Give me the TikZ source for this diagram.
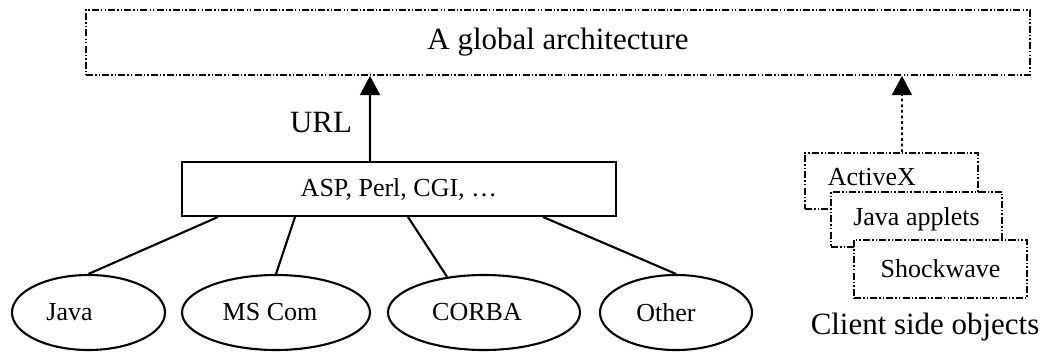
\documentclass[tikz,border=0pt]{standalone}
\usepackage{fontspec}
\setmainfont{Liberation Serif}
\usetikzlibrary{arrows.meta,shapes.geometric}

\tikzset{
  bigtext/.style={font=\fontsize{22}{26}\selectfont},
  smalltext/.style={font=\fontsize{18.5}{22}\selectfont},
  dashbox/.style={draw, fill=white, line width=1.3pt,
    dash pattern=on 5pt off 1.5pt on 1pt off 1.5pt on 1pt off 1.5pt},
  solidbox/.style={draw, fill=white, line width=1.4pt},
  blob/.style={ellipse, draw, line width=1.5pt, inner sep=0pt},
  link/.style={line width=1.5pt},
  bigtip/.style={-{Triangle[width=0.5cm, length=0.48cm]}}
}

\begin{document}
\begin{tikzpicture}
\useasboundingbox (0,0) rectangle (26.125,8.775);

\node (global) at (13.95,7.7125) [dashbox, minimum width=23.6cm, minimum height=1.625cm, bigtext]{A global architecture};

\node (asp) at (9.975,4.05) [solidbox, minimum width=10.85cm, minimum height=1.35cm, smalltext]{ASP, Perl, CGI, \dots};

\node (url) at (8.025,5.7) [bigtext]{URL};

\node (java) at (2.2125,0.9625) [blob, minimum width=3.825cm, minimum height=1.875cm, smalltext]{Java\hspace*{0.95cm}};
\node (mscom) at (6.9,0.9625) [blob, minimum width=4.7cm, minimum height=1.875cm, smalltext]{MS Com\hspace*{0.3cm}};
\node (corba) at (12.1,0.9625) [blob, minimum width=4.8cm, minimum height=1.875cm, smalltext]{CORBA\hspace*{0.35cm}};
\node (other) at (16.9,0.9625) [blob, minimum width=3.8cm, minimum height=1.875cm, smalltext]{Other\hspace*{0.5cm}};

% client side stack
\node (activex) at (22.2875,4.25) [dashbox, minimum width=4.325cm, minimum height=1.4cm, smalltext]{\raisebox{0.2cm}{ActiveX}\hspace*{0.98cm}};
\node (applets) at (22.9125,3.2875) [dashbox, minimum width=4.275cm, minimum height=1.375cm, smalltext]{Java applets};
\node (shock) at (23.5125,2.05) [dashbox, minimum width=4.325cm, minimum height=1.45cm, smalltext]{Shockwave};

\node (client) at (23.125,0.6) [bigtext]{Client side objects};

\draw [link, bigtip] ([xshift=-0.725cm]asp.north) -- ([xshift=-4.7cm]global.south);
\draw [line width=1.3pt, dash pattern=on 2pt off 2pt, bigtip] ([xshift=0.26cm]activex.north) -- ([xshift=8.6cm]global.south);

\draw [link] ([xshift=-4.525cm]asp.south) -- (java.north);
\draw [link] ([xshift=-2.6cm]asp.south) -- (mscom.north);
\draw [link] ([xshift=0.225cm]asp.south) -- (corba.136);
\draw [link] ([xshift=3.6cm]asp.south) -- (other.north);

\end{tikzpicture}
\end{document}
